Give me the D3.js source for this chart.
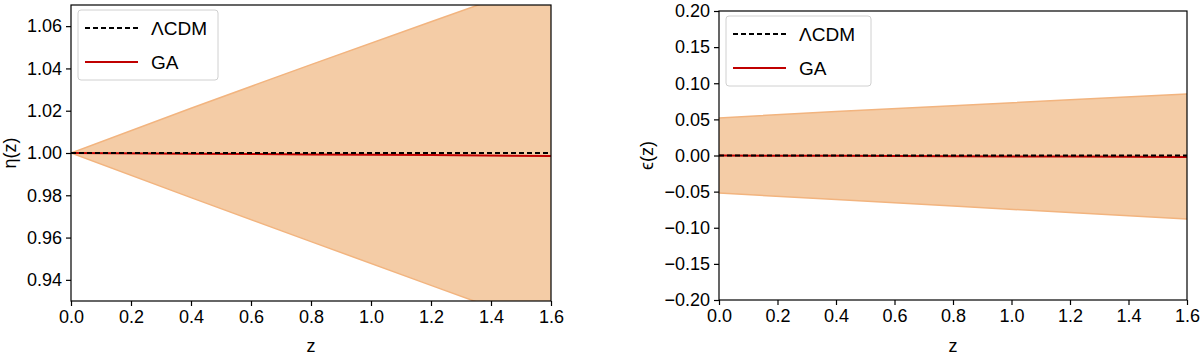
<!DOCTYPE html>
<html>
<head>
<meta charset="utf-8">
<script src="https://cdn.jsdelivr.net/npm/d3@7"></script>
<style>
  body { margin: 0; background: #fff; }
  svg text { font-family: "Liberation Sans", Arial, sans-serif; fill: #000; }
  .axis path, .axis line { stroke: #000; stroke-width: 1.2; }
  .axis text { font-size: 18px; }
</style>
</head>
<body>
<div id="chart"></div>
<script>
// redshift grid
const zGrid = [0, 0.4, 0.8, 1.2, 1.6];

// eta(z) panel
const etaLCDM = [1, 1, 1, 1, 1];
const etaGA = [1.0, 0.9997, 0.9993, 0.999, 0.9986];
const etaUpper = [1.0, 1.0212, 1.0418, 1.0621, 1.0822];
const etaLower = [1.0, 0.9789, 0.9581, 0.9374, 0.9168];
const etaTicks = [0.94, 0.96, 0.98, 1.00, 1.02, 1.04, 1.06];

// epsilon(z) panel
const epsLCDM = [0, 0, 0, 0, 0];
const epsGA = [0, -0.0005, -0.001, -0.0015, -0.002];
const epsUpper = [0.052, 0.061, 0.069, 0.077, 0.085];
const epsLower = [-0.052, -0.061, -0.070, -0.079, -0.088];
const epsTicks = [-0.20, -0.15, -0.10, -0.05, 0.00, 0.05, 0.10, 0.15, 0.20];

const zTicks = [0, 0.2, 0.4, 0.6, 0.8, 1.0, 1.2, 1.4, 1.6];
const legendLabels = ['\u039BCDM', 'GA'];

const svg = d3.select('#chart').append('svg')
  .attr('width', 1200)
  .attr('height', 356);

function drawPanel(opt) {
  const x = d3.scaleLinear().domain([0, 1.6]).range([opt.left, opt.right]);
  const y = d3.scaleLinear().domain(opt.yDomain).range([opt.bottom, opt.top]);

  const g = svg.append('g');

  g.append('clipPath').attr('id', opt.id)
    .append('rect')
    .attr('x', opt.left).attr('y', opt.top)
    .attr('width', opt.right - opt.left).attr('height', opt.bottom - opt.top);

  const plot = g.append('g').attr('clip-path', `url(#${opt.id})`);

  const band = zGrid.map((z, i) => ({z: z, lo: opt.lower[i], hi: opt.upper[i]}));
  const area = d3.area().x(d => x(d.z)).y0(d => y(d.lo)).y1(d => y(d.hi));

  plot.append('path')
    .datum(band)
    .attr('fill', '#f4cca6')
    .attr('stroke', 'none')
    .attr('d', area);

  const edge = key => d3.line().x(d => x(d.z)).y(d => y(d[key]));
  ['lo', 'hi'].forEach(k => {
    plot.append('path')
      .datum(band)
      .attr('fill', 'none')
      .attr('stroke', '#f2b47f')
      .attr('stroke-width', 1.5)
      .attr('d', edge(k));
  });

  const line = d3.line().x(d => x(d[0])).y(d => y(d[1]));

  plot.append('path')
    .datum(zGrid.map((z, i) => [z, opt.ga[i]]))
    .attr('fill', 'none')
    .attr('stroke', '#c00000')
    .attr('stroke-width', 2)
    .attr('d', line);

  plot.append('path')
    .datum(zGrid.map((z, i) => [z, opt.lcdm[i]]))
    .attr('fill', 'none')
    .attr('stroke', '#000')
    .attr('stroke-width', 2)
    .attr('stroke-dasharray', '5,3')
    .attr('d', line);

  // frame
  g.append('rect')
    .attr('x', opt.left).attr('y', opt.top)
    .attr('width', opt.right - opt.left).attr('height', opt.bottom - opt.top)
    .attr('fill', 'none')
    .attr('stroke', '#000')
    .attr('stroke-width', 1.2);

  g.append('g')
    .attr('class', 'axis')
    .attr('transform', `translate(0,${opt.bottom})`)
    .call(d3.axisBottom(x).tickValues(zTicks).tickFormat(d3.format('.1f')).tickSizeOuter(0).tickSize(5).tickPadding(4))
    .call(a => a.select('.domain').remove());

  g.append('g')
    .attr('class', 'axis')
    .attr('transform', `translate(${opt.left},0)`)
    .call(d3.axisLeft(y).tickValues(opt.ticks).tickFormat(d3.format('.2f')).tickSizeOuter(0).tickSize(5).tickPadding(4))
    .call(a => a.select('.domain').remove());

  g.append('text')
    .attr('x', (opt.left + opt.right) / 2)
    .attr('y', 352)
    .attr('text-anchor', 'middle')
    .attr('font-size', 18)
    .text('z');

  g.append('text')
    .attr('transform', `translate(${opt.labelX},${(opt.top + opt.bottom) / 2}) rotate(-90)`)
    .attr('text-anchor', 'middle')
    .attr('font-size', 18)
    .text(opt.yLabel);

  // legend
  const lg = g.append('g').attr('transform', `translate(${opt.left + 7},${opt.top + 5})`);
  lg.append('rect')
    .attr('width', opt.legendW).attr('height', 70)
    .attr('rx', 3)
    .attr('fill', 'rgba(255,255,255,0.8)')
    .attr('stroke', '#d0d0d0');
  legendLabels.forEach((lab, i) => {
    const ly = 18 + i * 34;
    lg.append('line')
      .attr('x1', 7).attr('x2', 60)
      .attr('y1', ly).attr('y2', ly)
      .attr('stroke', i === 0 ? '#000' : '#c00000')
      .attr('stroke-width', 2)
      .attr('stroke-dasharray', i === 0 ? '5,3' : null);
    lg.append('text')
      .attr('x', 73).attr('y', ly + 7)
      .attr('font-size', 19)
      .text(lab);
  });
}

drawPanel({
  id: 'clipL', left: 71, right: 551, top: 5, bottom: 301,
  yDomain: [0.93, 1.07], ticks: etaTicks,
  lcdm: etaLCDM, ga: etaGA, upper: etaUpper, lower: etaLower,
  yLabel: '\u03B7(z)', labelX: 16, legendW: 140
});

drawPanel({
  id: 'clipR', left: 719, right: 1187, top: 11, bottom: 300,
  yDomain: [-0.2, 0.2], ticks: epsTicks,
  lcdm: epsLCDM, ga: epsGA, upper: epsUpper, lower: epsLower,
  yLabel: '\u03F5(z)', labelX: 653, legendW: 145
});
</script>
</body>
</html>
